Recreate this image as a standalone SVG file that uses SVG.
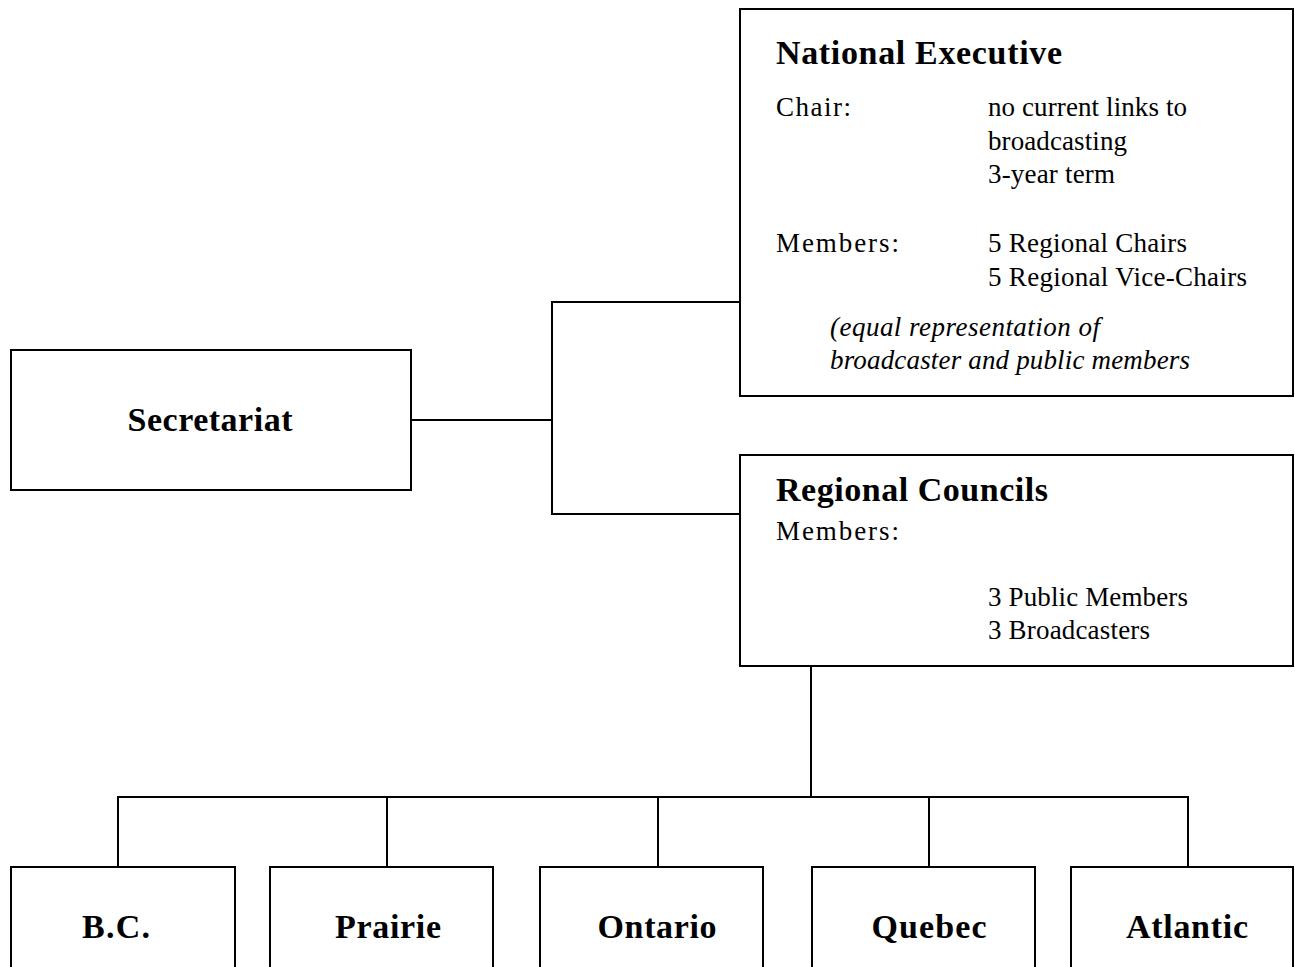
<svg xmlns="http://www.w3.org/2000/svg" width="1295" height="967" viewBox="0 0 1295 967">
<style>
.box{fill:#fff;stroke:#000;stroke-width:2}
.ln{fill:none;stroke:#000;stroke-width:2}
.t{font-family:"Liberation Serif","Times New Roman",serif;font-size:27px;fill:#000}
.b{font-family:"Liberation Serif","Times New Roman",serif;font-size:34px;font-weight:bold;fill:#000}
.i{font-style:italic}
.c{text-anchor:middle}
</style>
<rect width="1295" height="967" fill="#fff"/>
<g id="connectors">
<polyline class="ln" points="411,420 552,420"/>
<polyline class="ln" points="740,302 552,302 552,514 740,514"/>
<polyline class="ln" points="811,666 811,797"/>
<polyline class="ln" points="118,867 118,797 1188,797 1188,867"/>
<polyline class="ln" points="387,797 387,867"/>
<polyline class="ln" points="658,797 658,867"/>
<polyline class="ln" points="929,797 929,867"/>
</g>
<g id="national-executive">
<rect class="box" x="740" y="9" width="553" height="387"/>
<text class="b" x="776" y="64" textLength="286">National Executive</text>
<text class="t" x="776" y="116" textLength="75">Chair:</text>
<text class="t" x="988" y="116" textLength="199">no current links to</text>
<text class="t" x="988" y="150" textLength="139">broadcasting</text>
<text class="t" x="988" y="183" textLength="127">3-year term</text>
<text class="t" x="776" y="252" textLength="123">Members:</text>
<text class="t" x="988" y="252" textLength="199">5 Regional Chairs</text>
<text class="t" x="988" y="286" textLength="259">5 Regional Vice-Chairs</text>
<text class="t i" x="830" y="336" textLength="270">(equal representation of</text>
<text class="t i" x="830" y="369" textLength="360">broadcaster and public members</text>
</g>
<g id="secretariat">
<rect class="box" x="11" y="350" width="400" height="140"/>
<text class="b c" x="210" y="431" textLength="165">Secretariat</text>
</g>
<g id="regional-councils">
<rect class="box" x="740" y="455" width="553" height="211"/>
<text class="b" x="776" y="501" textLength="272">Regional Councils</text>
<text class="t" x="776" y="540" textLength="123">Members:</text>
<text class="t" x="988" y="606" textLength="200">3 Public Members</text>
<text class="t" x="988" y="639" textLength="162">3 Broadcasters</text>
</g>
<g id="bc">
<rect class="box" x="11" y="867" width="224" height="110"/>
<text class="b c" x="116" y="938" textLength="68">B.C.</text>
</g>
<g id="prairie">
<rect class="box" x="270" y="867" width="223" height="110"/>
<text class="b c" x="388" y="938" textLength="106">Prairie</text>
</g>
<g id="ontario">
<rect class="box" x="540" y="867" width="223" height="110"/>
<text class="b c" x="657" y="938" textLength="119">Ontario</text>
</g>
<g id="quebec">
<rect class="box" x="812" y="867" width="223" height="110"/>
<text class="b c" x="929" y="938" textLength="115">Quebec</text>
</g>
<g id="atlantic">
<rect class="box" x="1071" y="867" width="222" height="110"/>
<text class="b c" x="1187" y="938" textLength="122">Atlantic</text>
</g>
</svg>
